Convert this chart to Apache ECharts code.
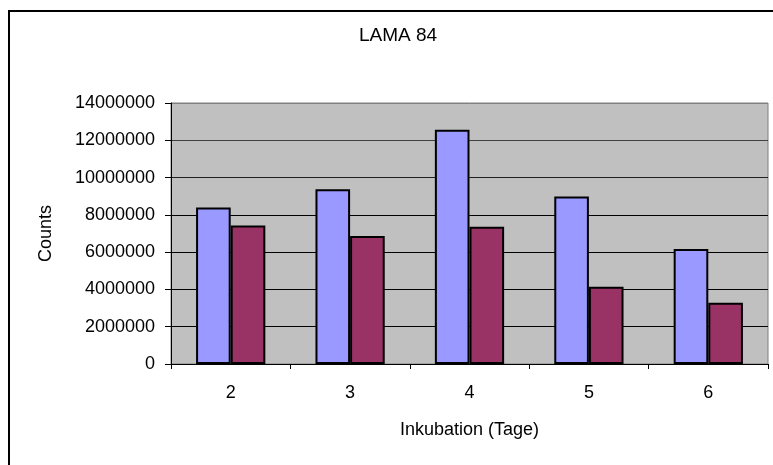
<!DOCTYPE html>
<html>
<head>
<meta charset="utf-8">
<script src="https://cdn.jsdelivr.net/npm/echarts@6/dist/echarts.min.js"></script>
<style>
  html, body { margin: 0; padding: 0; background: #fff; }
  #chart { width: 773px; height: 465px; }
</style>
</head>
<body>
<div id="chart"></div>
<script>
// Inkubation days on the category axis
const days = ['2', '3', '4', '5', '6'];
// Counts per day, two measurement series
const seriesA = [8400000, 9380000, 12560000, 8980000, 6170000];
const seriesB = [7430000, 6870000, 7360000, 4150000, 3290000];
// Value axis range
const yMin = 0;
const yMax = 14000000;
const yStep = 2000000;

const FONT = '"Liberation Sans", Arial, sans-serif';

const chart = echarts.init(document.getElementById('chart'), null, { renderer: 'canvas' });

chart.setOption({
  animation: false,
  backgroundColor: '#ffffff',
  graphic: [
    {
      type: 'rect',
      shape: { x: 9, y: 11, width: 800, height: 500 },
      style: { fill: 'none', stroke: '#000', lineWidth: 2 },
      silent: true
    },
    {
      type: 'text',
      x: 398,
      y: 36,
      style: {
        text: 'LAMA 84',
        font: '19px ' + FONT,
        fill: '#000',
        textAlign: 'center',
        textVerticalAlign: 'middle'
      }
    }
  ],
  grid: {
    left: 171,
    right: 5,
    top: 103,
    bottom: 101,
    show: true,
    backgroundColor: '#C0C0C0',
    borderColor: '#808080',
    borderWidth: 1
  },
  xAxis: {
    type: 'category',
    data: days,
    name: 'Inkubation (Tage)',
    nameLocation: 'middle',
    nameGap: 57,
    nameTextStyle: { fontFamily: FONT, fontSize: 18, color: '#000' },
    axisLine: { show: true, lineStyle: { color: '#000', width: 1 } },
    axisTick: { show: true, length: 5, lineStyle: { color: '#000' } },
    axisLabel: { margin: 20, fontFamily: FONT, fontSize: 18, color: '#000' },
    splitLine: { show: false }
  },
  yAxis: {
    type: 'value',
    min: yMin,
    max: yMax,
    interval: yStep,
    name: 'Counts',
    nameLocation: 'middle',
    nameRotate: 90,
    nameGap: 116,
    nameTextStyle: { fontFamily: FONT, fontSize: 18, color: '#000' },
    axisLine: { show: true, lineStyle: { color: '#000', width: 1 } },
    axisTick: { show: true, length: 6, lineStyle: { color: '#000' } },
    axisLabel: {
      margin: 16,
      fontFamily: FONT,
      fontSize: 18,
      color: '#000',
      formatter: v => String(v)
    },
    splitLine: {
      show: true,
      lineStyle: { color: ['#000', '#000', '#000', '#000', '#000', '#202020', '#404040', '#808080'], width: 1 }
    }
  },
  series: [
    {
      type: 'bar',
      data: seriesA,
      barGap: '0%',
      barCategoryGap: '42%',
      itemStyle: { color: '#9999FF', borderColor: '#000', borderWidth: 2 }
    },
    {
      type: 'bar',
      data: seriesB,
      barGap: '0%',
      barCategoryGap: '42%',
      itemStyle: { color: '#993366', borderColor: '#000', borderWidth: 2 }
    }
  ]
});
</script>
</body>
</html>
